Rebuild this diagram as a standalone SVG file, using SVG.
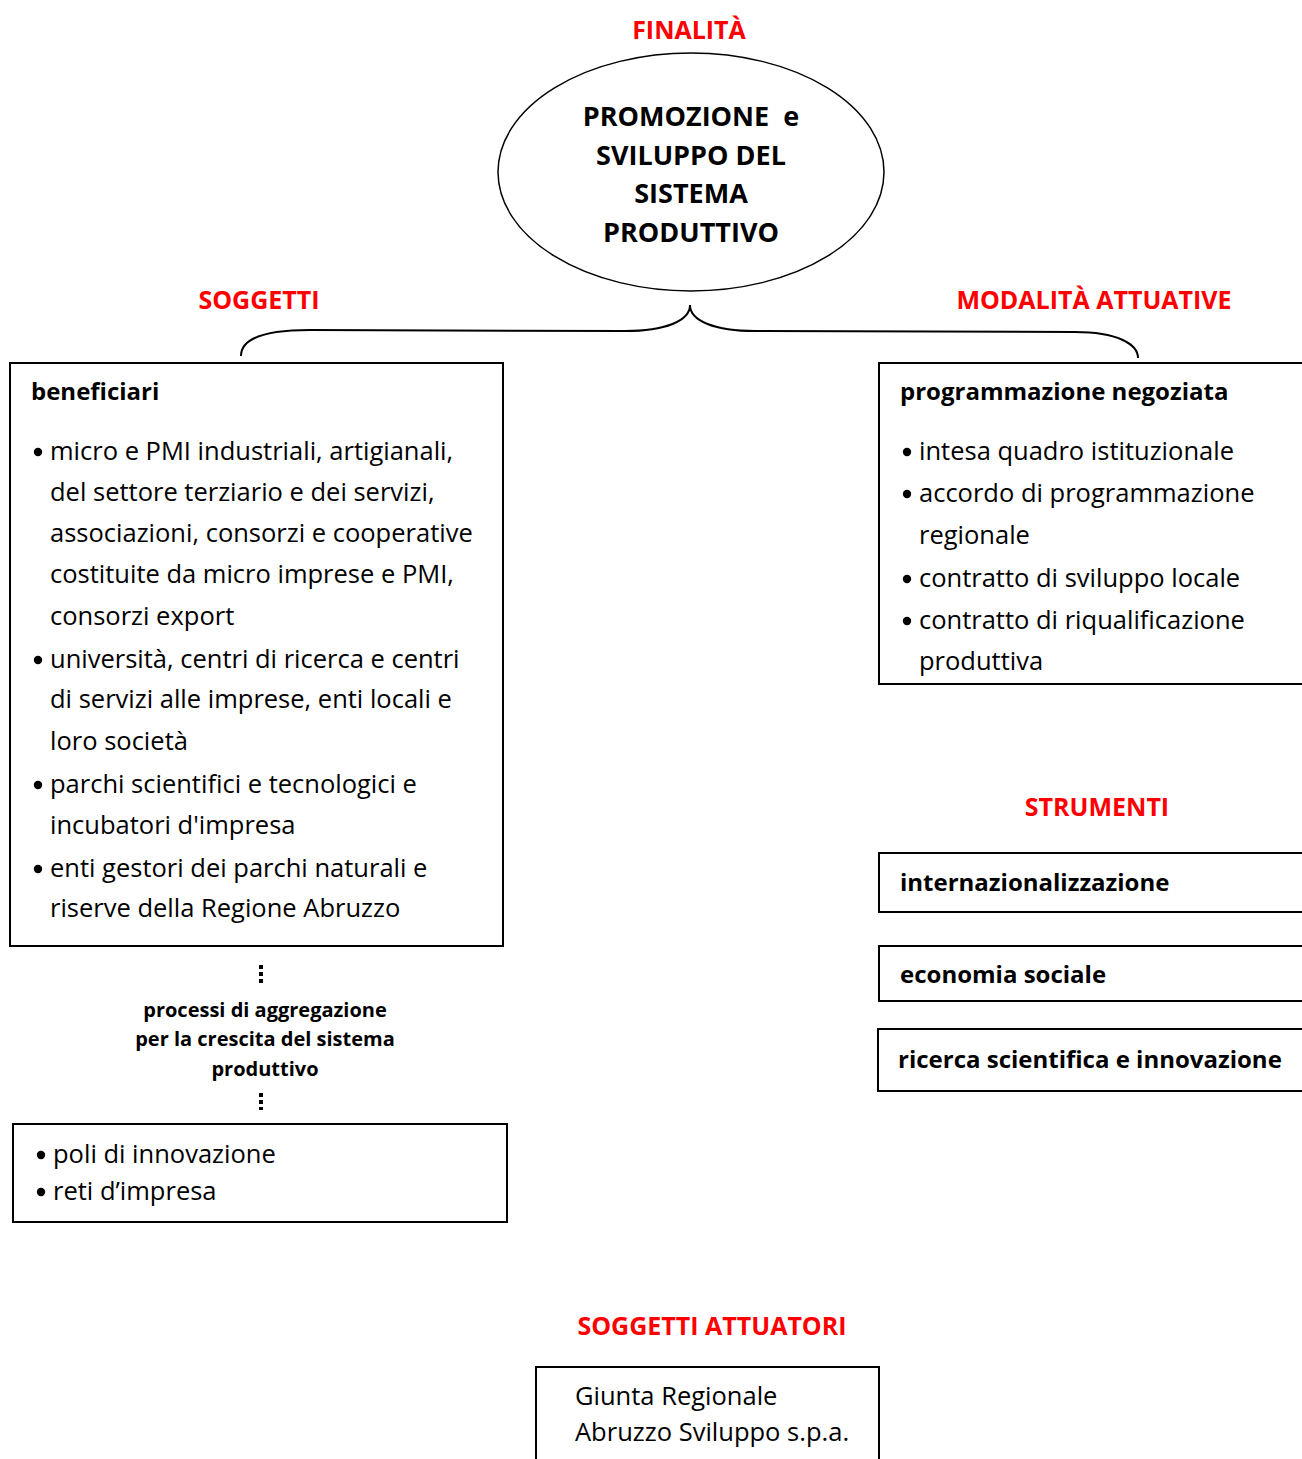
<svg xmlns="http://www.w3.org/2000/svg" width="1302" height="1459" viewBox="0 0 1302 1459">
<style>
.red{font-family:"Open Sans","Liberation Sans",sans-serif;font-weight:bold;font-size:25px;fill:#ff0000;text-anchor:middle}
.ell{font-family:"Open Sans","Liberation Sans",sans-serif;font-weight:bold;font-size:27px;fill:#000;text-anchor:middle}
.hd{font-family:"Open Sans","Liberation Sans",sans-serif;font-weight:bold;font-size:24px;fill:#000}
.tx{font-family:"Open Sans","Liberation Sans",sans-serif;font-size:25.5px;fill:#000}
.sm{font-family:"Open Sans","Liberation Sans",sans-serif;font-weight:bold;font-size:20px;fill:#000;text-anchor:middle}
.box{fill:#fff;stroke:#000;stroke-width:2}
.bul{fill:#000}
.con{fill:none;stroke:#000;stroke-width:2}
</style>
<rect width="1302" height="1459" fill="#fff"/>

<g id="labels">
<text class="red" x="689" y="39">FINALITÀ</text>
<text class="red" x="259" y="309">SOGGETTI</text>
<text class="red" x="1094" y="309">MODALITÀ ATTUATIVE</text>
<text class="red" x="1097" y="816">STRUMENTI</text>
<text class="red" x="712" y="1335">SOGGETTI ATTUATORI</text>
</g>

<g id="connectors">
<path class="con" d="M241,356 C241,340 262,330 310,330 L625,331 C665,331 690,321 690,305 C690,321 715,331 755,331 L1075,332 C1117,332 1138,344 1138,358"/>
</g>

<g id="finalita">
<ellipse cx="691" cy="172" rx="193" ry="119" fill="#fff" stroke="#000" stroke-width="1.5"/>
<text class="ell" x="691" y="126" xml:space="preserve">PROMOZIONE  e</text>
<text class="ell" x="691" y="165">SVILUPPO DEL</text>
<text class="ell" x="691" y="203">SISTEMA</text>
<text class="ell" x="691" y="242">PRODUTTIVO</text>
</g>

<g id="beneficiari">
<rect class="box" x="10" y="363" width="493" height="583"/>
<text class="hd" x="31" y="400">beneficiari</text>
<circle class="bul" cx="38" cy="452" r="4.2"/>
<text class="tx" x="50" y="460">micro e PMI industriali, artigianali,</text>
<text class="tx" x="50" y="501">del settore terziario e dei servizi,</text>
<text class="tx" x="50" y="542">associazioni, consorzi e cooperative</text>
<text class="tx" x="50" y="583">costituite da micro imprese e PMI,</text>
<text class="tx" x="50" y="625">consorzi export</text>
<circle class="bul" cx="38" cy="660" r="4.2"/>
<text class="tx" x="50" y="668">università, centri di ricerca e centri</text>
<text class="tx" x="50" y="708">di servizi alle imprese, enti locali e</text>
<text class="tx" x="50" y="750">loro società</text>
<circle class="bul" cx="38" cy="785" r="4.2"/>
<text class="tx" x="50" y="793">parchi scientifici e tecnologici e</text>
<text class="tx" x="50" y="834">incubatori d'impresa</text>
<circle class="bul" cx="38" cy="869" r="4.2"/>
<text class="tx" x="50" y="877">enti gestori dei parchi naturali e</text>
<text class="tx" x="50" y="917">riserve della Regione Abruzzo</text>
</g>

<g id="aggregazione">
<rect class="bul" x="259" y="965" width="4" height="4"/>
<rect class="bul" x="259" y="972" width="4" height="4"/>
<rect class="bul" x="259" y="979" width="4" height="4"/>
<text class="sm" x="265" y="1017">processi di aggregazione</text>
<text class="sm" x="265" y="1046">per la crescita del sistema</text>
<text class="sm" x="265" y="1076">produttivo</text>
<rect class="bul" x="259" y="1093" width="4" height="4"/>
<rect class="bul" x="259" y="1100" width="4" height="4"/>
<rect class="bul" x="259" y="1107" width="4" height="3"/>
</g>

<g id="poli">
<rect class="box" x="13" y="1124" width="494" height="98"/>
<circle class="bul" cx="41" cy="1155" r="4.2"/>
<text class="tx" x="53" y="1163">poli di innovazione</text>
<circle class="bul" cx="41" cy="1192" r="4.2"/>
<text class="tx" x="53" y="1200">reti d’impresa</text>
</g>

<g id="programmazione">
<rect class="box" x="879" y="363" width="440" height="321"/>
<text class="hd" x="900" y="400">programmazione negoziata</text>
<circle class="bul" cx="907" cy="452" r="4.2"/>
<text class="tx" x="919" y="460">intesa quadro istituzionale</text>
<circle class="bul" cx="907" cy="494" r="4.2"/>
<text class="tx" x="919" y="502">accordo di programmazione</text>
<text class="tx" x="919" y="544">regionale</text>
<circle class="bul" cx="907" cy="579" r="4.2"/>
<text class="tx" x="919" y="587">contratto di sviluppo locale</text>
<circle class="bul" cx="907" cy="621" r="4.2"/>
<text class="tx" x="919" y="629">contratto di riqualificazione</text>
<text class="tx" x="919" y="670">produttiva</text>
</g>

<g id="internazionalizzazione">
<rect class="box" x="879" y="853" width="440" height="59"/>
<text class="hd" x="900" y="891">internazionalizzazione</text>
</g>

<g id="economia">
<rect class="box" x="879" y="946" width="440" height="55"/>
<text class="hd" x="900" y="983">economia sociale</text>
</g>

<g id="ricerca">
<rect class="box" x="878" y="1029" width="440" height="62"/>
<text class="hd" x="898" y="1068">ricerca scientifica e innovazione</text>
</g>

<g id="attuatori">
<rect class="box" x="536" y="1367" width="343" height="110"/>
<text class="tx" x="575" y="1405">Giunta Regionale</text>
<text class="tx" x="575" y="1441">Abruzzo Sviluppo s.p.a.</text>
</g>
</svg>
